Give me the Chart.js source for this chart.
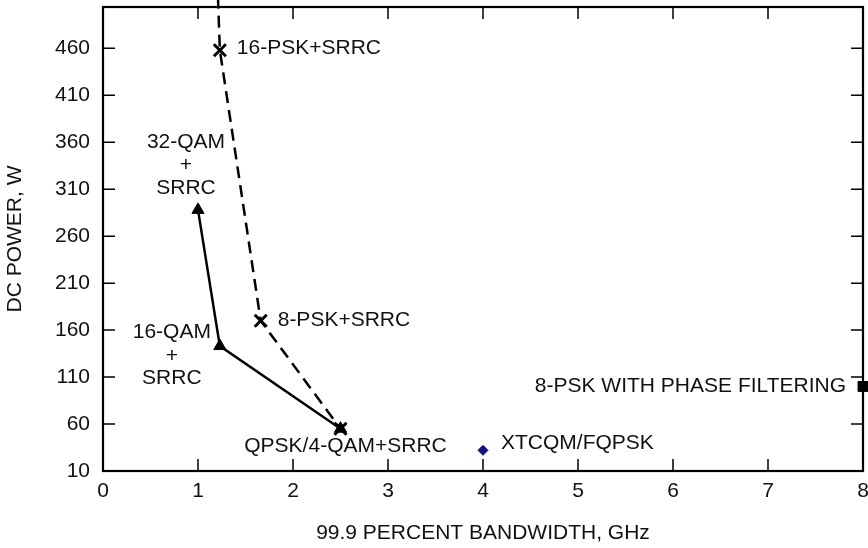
<!DOCTYPE html>
<html>
<head>
<meta charset="utf-8">
<script src="https://cdn.jsdelivr.net/npm/chart.js@4.4.1/dist/chart.umd.min.js"></script>
<style>
  html, body { margin: 0; padding: 0; background: #fff; }
  #wrap { width: 868px; height: 548px; }
</style>
</head>
<body>
<div id="wrap"><canvas id="chart" width="868" height="548"></canvas></div>
<script>
// Data
var pskX = [1.21, 1.23, 1.66, 2.5];       // first point runs off the top of the frame
var pskY = [515, 458, 170, 55];
var qamX = [1.0, 1.23, 2.5];
var qamY = [288, 143, 55];
var xtcqmX = [4];
var xtcqmY = [32];
var phaseX = [8];
var phaseY = [100];
var xTicks = [0, 1, 2, 3, 4, 5, 6, 7, 8];
var yTicks = [10, 60, 110, 160, 210, 260, 310, 360, 410, 460];

var labels = [
    { text: "16-PSK+SRRC", x: 1.23, y: 458, dx: 17, dy: -2, align: "left" },
    { text: "8-PSK+SRRC", x: 1.66, y: 170, dx: 17, dy: -1, align: "left" },
    { text: "QPSK/4-QAM+SRRC", x: 2.5, y: 55, dx: 5, dy: 17, align: "center" },
    { text: "XTCQM/FQPSK", x: 4, y: 32, dx: 18, dy: -7, align: "left" },
    { text: "8-PSK WITH PHASE FILTERING", x: 8, y: 100, dx: -17, dy: 0, align: "right" },
    { text: "32-QAM", x: 1.0, y: 288, dx: -12, dy: -68, align: "center" },
    { text: "+", x: 1.0, y: 288, dx: -12, dy: -45, align: "center" },
    { text: "SRRC", x: 1.0, y: 288, dx: -12, dy: -22, align: "center" },
    { text: "16-QAM", x: 1.23, y: 143, dx: -48, dy: -14, align: "center" },
    { text: "+", x: 1.23, y: 143, dx: -48, dy: 10, align: "center" },
    { text: "SRRC", x: 1.23, y: 143, dx: -48, dy: 32, align: "center" }
];

var FONT = "Liberation Sans, Arial, sans-serif";

function toPoints(xs, ys) {
    return xs.map(function (x, i) { return { x: x, y: ys[i] }; });
}

// Frame with inward ticks on all four sides, plus text labels
var framePlugin = {
    id: "frame",
    afterDatasetsDraw: function (chart) {
        var ctx = chart.ctx;
        var a = chart.chartArea;
        var xs = chart.scales.x, ys = chart.scales.y;
        ctx.save();
        ctx.strokeStyle = "#000";
        ctx.lineWidth = 1.5;
        xTicks.forEach(function (v) {
            var px = xs.getPixelForValue(v);
            ctx.beginPath();
            ctx.moveTo(px, a.bottom); ctx.lineTo(px, a.bottom - 12);
            ctx.moveTo(px, a.top); ctx.lineTo(px, a.top + 12);
            ctx.stroke();
        });
        yTicks.forEach(function (v) {
            var py = ys.getPixelForValue(v);
            ctx.beginPath();
            ctx.moveTo(a.left, py); ctx.lineTo(a.left + 12, py);
            ctx.moveTo(a.right, py); ctx.lineTo(a.right - 12, py);
            ctx.stroke();
        });
        ctx.lineWidth = 2.2;
        ctx.strokeRect(a.left, a.top, a.right - a.left, a.bottom - a.top);

        ctx.fillStyle = "#111";
        ctx.font = "21px " + FONT;
        ctx.textBaseline = "middle";
        labels.forEach(function (l) {
            ctx.textAlign = l.align;
            ctx.fillText(l.text, xs.getPixelForValue(l.x) + l.dx, ys.getPixelForValue(l.y) + l.dy);
        });
        ctx.restore();
    }
};

var ctx = document.getElementById("chart").getContext("2d");
var myChart = new Chart(ctx, {
    type: "scatter",
    data: {
        datasets: [{
            label: "PSK + SRRC",
            data: toPoints(pskX, pskY),
            showLine: true,
            borderColor: "#000",
            backgroundColor: "#000",
            borderWidth: 2.5,
            borderDash: [12, 7],
            pointStyle: "crossRot",
            pointRadius: [0, 8.5, 8.5, 8.5],
            pointBorderWidth: 3,
            clip: false
        }, {
            label: "QAM + SRRC",
            data: toPoints(qamX, qamY),
            showLine: true,
            borderColor: "#000",
            backgroundColor: "#000",
            borderWidth: 2.5,
            pointStyle: "triangle",
            pointRadius: 7,
            pointBorderWidth: 1
        }, {
            label: "XTCQM/FQPSK",
            data: toPoints(xtcqmX, xtcqmY),
            backgroundColor: "#12127f",
            borderColor: "#12127f",
            pointStyle: "rectRot",
            pointRadius: 5
        }, {
            label: "8-PSK with phase filtering",
            data: toPoints(phaseX, phaseY),
            backgroundColor: "#000",
            borderColor: "#000",
            pointStyle: "rect",
            pointRadius: 7,
            clip: false
        }]
    },
    options: {
        responsive: false,
        animation: false,
        layout: { autoPadding: false, padding: { top: 7, right: 5, left: 0, bottom: 0 } },
        plugins: {
            legend: { display: false },
            tooltip: { enabled: false }
        },
        scales: {
            x: {
                type: "linear",
                min: 0,
                max: 8,
                afterBuildTicks: function (scale) {
                    scale.ticks = xTicks.map(function (v) { return { value: v }; });
                },
                afterFit: function (scale) {
                    scale.height = 77;
                    scale.paddingLeft = 0;
                    scale.paddingRight = 0;
                },
                grid: { display: false, drawTicks: false },
                border: { display: false },
                ticks: { color: "#111", font: { size: 21, family: FONT }, padding: 8 },
                title: {
                    display: true,
                    text: "99.9 PERCENT BANDWIDTH, GHz",
                    color: "#111",
                    font: { size: 21, family: FONT },
                    padding: { top: 10, bottom: 2 }
                }
            },
            y: {
                type: "linear",
                min: 10,
                max: 504,
                afterBuildTicks: function (scale) {
                    scale.ticks = yTicks.map(function (v) { return { value: v }; });
                },
                afterFit: function (scale) {
                    scale.width = 103;
                    scale.paddingTop = 0;
                    scale.paddingBottom = 0;
                },
                grid: { display: false, drawTicks: false },
                border: { display: false },
                ticks: { color: "#111", font: { size: 21, family: FONT }, padding: 13 },
                title: {
                    display: true,
                    text: "DC POWER, W",
                    color: "#111",
                    font: { size: 21, family: FONT },
                    padding: { top: 3, bottom: 0 }
                }
            }
        }
    },
    plugins: [framePlugin]
});
</script>
</body>
</html>
